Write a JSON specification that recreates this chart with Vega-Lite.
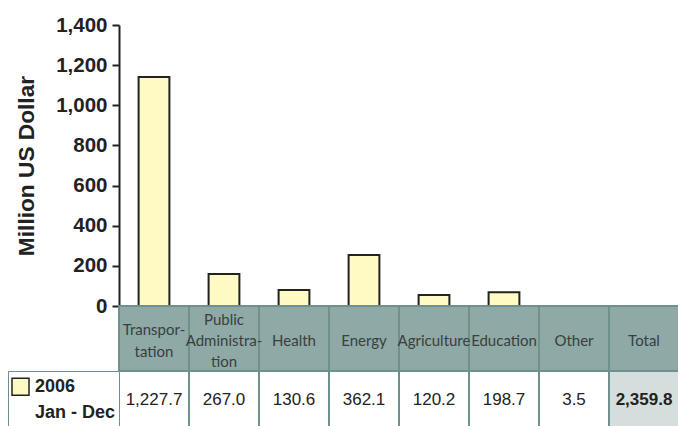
{
  "$schema": "https://vega.github.io/schema/vega-lite/v6.json",
  "background": "white",
  "padding": {"left": 7, "top": 15, "right": 0, "bottom": 0},
  "spacing": 0,
  "bounds": "flush",
  "resolve": {"scale": {"fill": "independent", "stroke": "independent"}, "legend": {"fill": "independent", "stroke": "independent"}},
  "config": {"view": {"stroke": null}},
  "datasets": {
    "sectors": [
      {"sector": "Transportation", "header": "Transpor-\ntation", "amount": 1227.7, "bar": 1141},
      {"sector": "Public Administration", "header": "Public\nAdministra-\ntion", "amount": 267.0, "bar": 160},
      {"sector": "Health", "header": "Health", "amount": 130.6, "bar": 80},
      {"sector": "Energy", "header": "Energy", "amount": 362.1, "bar": 254},
      {"sector": "Agriculture", "header": "Agriculture", "amount": 120.2, "bar": 55},
      {"sector": "Education", "header": "Education", "amount": 198.7, "bar": 68},
      {"sector": "Other", "header": "Other", "amount": 3.5, "bar": 0},
      {"sector": "Total", "header": "Total", "amount": 2359.8, "bar": null}
    ]
  },
  "vconcat": [
    {
      "width": 560,
      "height": 281,
      "data": {"name": "sectors"},
      "transform": [{"filter": "isValid(datum.bar) && datum.bar > 0"}],
      "mark": {"type": "bar", "fill": "#fff9c4", "stroke": "#222222", "strokeWidth": 2, "width": {"band": 0.44}},
      "encoding": {
        "x": {
          "field": "sector", "type": "nominal", "sort": null,
          "scale": {"domain": ["Transportation", "Public Administration", "Health", "Energy", "Agriculture", "Education", "Other", "Total"], "padding": 0},
          "axis": {"labels": false, "ticks": false, "title": null, "domainColor": "#222222", "domainWidth": 2, "minExtent": 0, "maxExtent": 0}
        },
        "y": {
          "field": "bar", "type": "quantitative",
          "scale": {"domain": [0, 1400], "nice": false},
          "axis": {
            "values": [0, 200, 400, 600, 800, 1000, 1200, 1400], "format": ",.0f",
            "title": "Million US Dollar", "grid": false,
            "domainColor": "#222222", "domainWidth": 2,
            "tickColor": "#222222", "tickWidth": 2, "tickSize": 7,
            "labelFont": "Liberation Sans", "labelFontWeight": "bold", "labelFontSize": 20.5, "labelColor": "#222222", "labelPadding": 5,
            "titleFont": "Liberation Sans", "titleFontWeight": "bold", "titleFontSize": 22.7, "titleColor": "#222222", "titlePadding": 17
          }
        }
      }
    },
    {
      "width": 560,
      "height": 65,
      "data": {"name": "sectors"},
      "transform": [{"calculate": "split(datum.header, '\\n').length", "as": "lines"}],
      "encoding": {
        "x": {
          "field": "sector", "type": "nominal", "sort": null,
          "scale": {"domain": ["Transportation", "Public Administration", "Health", "Energy", "Agriculture", "Education", "Other", "Total"], "padding": 0},
          "axis": null
        },
        "text": {"field": "header"}
      },
      "layer": [
        {"mark": {"type": "rect", "fill": "#8fa9a6", "stroke": "#6e918d", "strokeWidth": 2}},
        {
          "transform": [{"filter": "datum.lines === 1"}],
          "mark": {"type": "text", "font": "Lato", "fontSize": 15, "color": "#38403f", "lineBreak": "\n", "lineHeight": 21, "baseline": "middle", "dy": 2.5}
        },
        {
          "transform": [{"filter": "datum.lines === 2"}],
          "mark": {"type": "text", "font": "Lato", "fontSize": 15, "color": "#38403f", "lineBreak": "\n", "lineHeight": 21.5, "baseline": "middle", "dy": -8.5}
        },
        {
          "transform": [{"filter": "datum.lines === 3"}],
          "mark": {"type": "text", "font": "Lato", "fontSize": 15, "color": "#38403f", "lineBreak": "\n", "lineHeight": 21, "baseline": "middle", "dy": -18.5}
        }
      ]
    },
    {
      "width": 560,
      "height": 60,
      "data": {"name": "sectors"},
      "encoding": {
        "x": {
          "field": "sector", "type": "nominal", "sort": null,
          "scale": {"domain": ["Transportation", "Public Administration", "Health", "Energy", "Agriculture", "Education", "Other", "Total"], "padding": 0},
          "axis": null
        }
      },
      "layer": [
        {
          "mark": {"type": "rect", "stroke": "#6e918d", "strokeWidth": 2},
          "encoding": {"fill": {"condition": {"test": "datum.sector === 'Total'", "value": "#d3dedd"}, "value": "#ffffff"}}
        },
        {
          "transform": [{"filter": "datum.sector !== 'Total'"}],
          "mark": {"type": "text", "font": "Liberation Sans", "fontSize": 17, "color": "#222222", "baseline": "middle", "dy": -1},
          "encoding": {"text": {"field": "amount", "format": ",.1f"}}
        },
        {
          "transform": [{"filter": "datum.sector === 'Total'"}],
          "mark": {"type": "text", "font": "Liberation Sans", "fontSize": 17, "fontWeight": "bold", "color": "#222222", "baseline": "middle", "dy": -1},
          "encoding": {"text": {"field": "amount", "format": ",.1f"}}
        },
        {
          "mark": {"type": "square", "size": 0, "opacity": 1, "filled": true},
          "encoding": {
            "fill": {
              "datum": "2006", "type": "nominal",
              "scale": {"domain": ["2006", "Jan - Dec"], "range": ["#fff9c4", "transparent"]},
              "legend": {
                "orient": "left", "title": null, "offset": 0, "padding": 3,
                "strokeColor": "#6e918d", "fillColor": "#ffffff",
                "symbolType": "square", "symbolSize": 289, "clipHeight": 25.5, "rowPadding": 0,
                "symbolStrokeWidth": 1.5,
                "labelFont": "Liberation Sans", "labelFontSize": 18, "labelFontWeight": "bold", "labelColor": "#222222",
                "labelOffset": 5, "labelLimit": 200,
                "encode": {"legend": {"update": {"strokeWidth": {"value": 2}}}}
              }
            },
            "stroke": {
              "datum": "2006", "type": "nominal",
              "scale": {"domain": ["2006", "Jan - Dec"], "range": ["#222222", "transparent"]},
              "legend": {
                "orient": "left", "title": null, "offset": 0, "padding": 3,
                "strokeColor": "#6e918d", "fillColor": "#ffffff",
                "symbolType": "square", "symbolSize": 289, "clipHeight": 25.5, "rowPadding": 0,
                "symbolStrokeWidth": 1.5,
                "labelFont": "Liberation Sans", "labelFontSize": 18, "labelFontWeight": "bold", "labelColor": "#222222",
                "labelOffset": 5, "labelLimit": 200,
                "encode": {"legend": {"update": {"strokeWidth": {"value": 2}}}}
              }
            }
          }
        }
      ]
    }
  ]
}
